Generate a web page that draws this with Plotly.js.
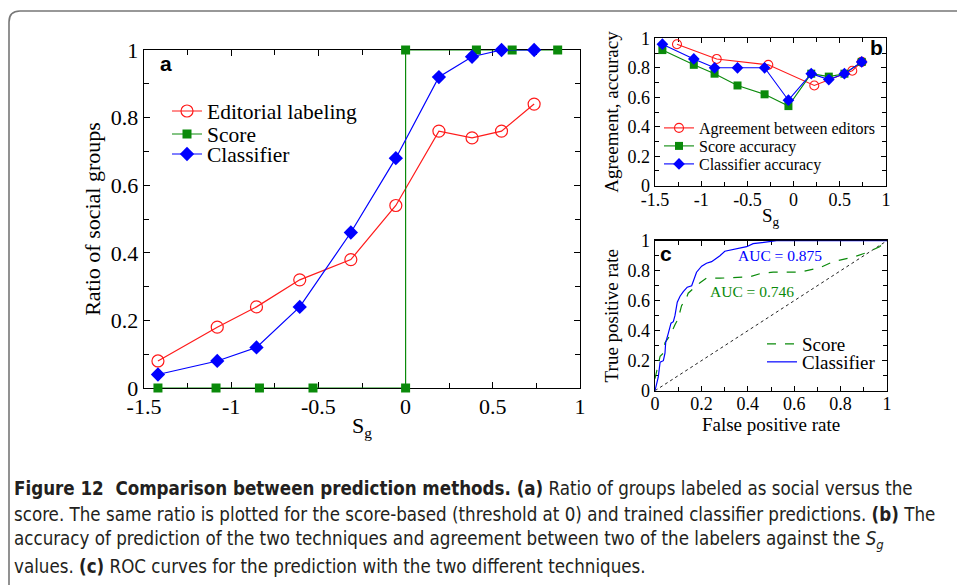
<!DOCTYPE html>
<html>
<head>
<meta charset="utf-8">
<script src="https://cdn.plot.ly/plotly-3.0.1.min.js"></script>
<style>html,body{margin:0;padding:0;background:#fff;}#chart{width:957px;height:585px;}</style>
</head>
<body>
<div id="chart"></div>
<script>
// ---------- Panel a: ratio of social groups ----------
const sgA = [-1.42, -1.08, -0.855, -0.607, -0.314, -0.056, 0.191, 0.381, 0.55, 0.737];
const editorialRatio = [0.08, 0.18, 0.24, 0.32, 0.38, 0.54, 0.76, 0.74, 0.76, 0.84];
const classifierRatio = [0.04, 0.08, 0.12, 0.24, 0.46, 0.68, 0.92, 0.98, 1.0, 1.0];
const sgScore = [-1.42, -1.087, -0.838, -0.531, 0.0, 0.0, 0.406, 0.611, 0.872];
const scoreRatio = [0, 0, 0, 0, 0, 1, 1, 1, 1];

// ---------- Panel b: agreement / accuracy ----------
const sgAgree = [-1.262, -0.832, -0.274, 0.224, 0.635, 0.737];
const agreement = [0.96, 0.86, 0.82, 0.68, 0.78, 0.84];
const scoreAccuracy = [0.92, 0.82, 0.76, 0.68, 0.62, 0.54, 0.76, 0.74, 0.76, 0.84];
const classifierAccuracy = [0.96, 0.86, 0.80, 0.80, 0.80, 0.58, 0.76, 0.72, 0.76, 0.84];

// ---------- Panel c: ROC curves ----------
const fprClassifier = [0, 0.007, 0.014, 0.022, 0.036, 0.043, 0.046, 0.057, 0.069, 0.079, 0.086, 0.096, 0.108, 0.122, 0.139, 0.158, 0.172, 0.179, 0.201, 0.222, 0.244, 0.265, 0.28, 0.301, 0.33, 0.366, 0.395, 0.423, 0.466, 0.524, 0.7, 1.0];
const tprClassifier = [0, 0.04, 0.09, 0.19, 0.20, 0.25, 0.32, 0.38, 0.45, 0.46, 0.50, 0.59, 0.63, 0.66, 0.69, 0.70, 0.77, 0.79, 0.83, 0.85, 0.86, 0.88, 0.90, 0.93, 0.94, 0.95, 0.96, 0.98, 0.99, 1.0, 1.0, 1.0];
const fprScore = [0, 0.007, 0.022, 0.036, 0.043, 0.057, 0.072, 0.086, 0.10, 0.115, 0.129, 0.143, 0.165, 0.194, 0.222, 0.28, 0.409, 0.452, 0.509, 0.624, 0.71, 0.768, 0.854, 0.911, 0.968, 1.0];
const tprScore = [0.08, 0.13, 0.23, 0.25, 0.32, 0.35, 0.39, 0.44, 0.48, 0.57, 0.59, 0.65, 0.68, 0.72, 0.75, 0.75, 0.76, 0.78, 0.79, 0.79, 0.82, 0.86, 0.89, 0.92, 0.96, 1.0];
const diagX = [0, 1];
const diagY = [0, 1];
const aucLabels = ['AUC = 0.875', 'AUC = 0.746'];
const aucPos = [[0.54, 0.90], [0.42, 0.66]];

// tick labels
const sgTickVals = [-1.5, -1, -0.5, 0, 0.5, 1];
const sgTickText = ['-1.5', '-1', '-0.5', '0', '0.5', '1'];
const unitTickVals = [0, 0.2, 0.4, 0.6, 0.8, 1];
const unitTickText = ['0', '0.2', '0.4', '0.6', '0.8', '1'];

const RED = '#ff1a1a', GREEN = '#0a8a0a', BLUE = '#0000ff';
const SERIF = 'Liberation Serif, Times New Roman, serif';
const W = 957, H = 585;
const px = v => v / W;
const py = v => 1 - v / H;

const traces = [
  // panel a
  {x: sgA, y: editorialRatio, xaxis: 'x', yaxis: 'y', name: 'Editorial labeling', legend: 'legend',
   mode: 'lines+markers', line: {color: RED, width: 1.2},
   marker: {symbol: 'circle-open', size: 12, color: RED, line: {width: 1.2}}, cliponaxis: false},
  {x: sgScore, y: scoreRatio, xaxis: 'x', yaxis: 'y', name: 'Score', legend: 'legend2',
   mode: 'lines+markers', line: {color: GREEN, width: 1.2},
   marker: {symbol: 'square', size: 9, color: GREEN}, cliponaxis: false},
  {x: sgA, y: classifierRatio, xaxis: 'x', yaxis: 'y', name: 'Classifier', legend: 'legend3',
   mode: 'lines+markers', line: {color: BLUE, width: 1.2},
   marker: {symbol: 'diamond', size: 11, color: BLUE}, cliponaxis: false},
  // panel b
  {x: sgAgree, y: agreement, xaxis: 'x2', yaxis: 'y2', name: 'Agreement between editors', legend: 'legend4',
   mode: 'lines+markers', line: {color: RED, width: 1.1},
   marker: {symbol: 'circle-open', size: 9, color: RED, line: {width: 1.1}}, cliponaxis: false},
  {x: sgA, y: scoreAccuracy, xaxis: 'x2', yaxis: 'y2', name: 'Score accuracy', legend: 'legend5',
   mode: 'lines+markers', line: {color: GREEN, width: 1.1},
   marker: {symbol: 'square', size: 8, color: GREEN}, cliponaxis: false},
  {x: sgA, y: classifierAccuracy, xaxis: 'x2', yaxis: 'y2', name: 'Classifier accuracy', legend: 'legend6',
   mode: 'lines+markers', line: {color: BLUE, width: 1.1},
   marker: {symbol: 'diamond', size: 9, color: BLUE}, cliponaxis: false},
  // panel c
  {x: diagX, y: diagY, xaxis: 'x3', yaxis: 'y3', showlegend: false, mode: 'lines',
   line: {color: '#222', width: 1, dash: 'dot'}},
  {x: fprScore, y: tprScore, xaxis: 'x3', yaxis: 'y3', name: 'Score', legend: 'legend7',
   mode: 'lines', line: {color: GREEN, width: 1.2, dash: 'dash'}},
  {x: fprClassifier, y: tprClassifier, xaxis: 'x3', yaxis: 'y3', name: 'Classifier', legend: 'legend8',
   mode: 'lines', line: {color: BLUE, width: 1.2}}
];

function axis(domain, range, tv, tt, minorDtick, fs, ticklen, extra) {
  return Object.assign({
    domain: domain, range: range, tickmode: 'array', tickvals: tv, ticktext: tt,
    showline: true, mirror: 'ticks', linecolor: '#000', linewidth: 1.3,
    ticks: 'inside', ticklen: ticklen, tickwidth: 1, tickcolor: '#000',
    minor: {tickmode: 'linear', tick0: 0, dtick: minorDtick, ticks: 'inside', ticklen: ticklen - 1, tickwidth: 1, tickcolor: '#000'},
    showgrid: false, zeroline: false, layer: 'below traces',
    tickfont: {family: SERIF, size: fs, color: '#000'}, fixedrange: true
  }, extra || {});
}

function leg(x, yc, fs) {
  return {x: px(x), y: py(yc), xanchor: 'left', yanchor: 'middle', xref: 'paper', yref: 'paper',
    bgcolor: 'rgba(0,0,0,0)', borderwidth: 0, itemwidth: 30,
    font: {family: SERIF, size: fs, color: '#000'}};
}

const captionFont = {family: 'DejaVu Sans Condensed, Liberation Sans Narrow, sans-serif', size: 18.6, color: '#231f20'};
const captionLines = [
  '<b>Figure 12  Comparison between prediction methods. (a)</b> Ratio of groups labeled as social versus the',
  'score. The same ratio is plotted for the score-based (threshold at 0) and trained classifier predictions. <b>(b)</b> The',
  'accuracy of prediction of the two techniques and agreement between two of the labelers against the <i>S<sub>g</sub></i>',
  'values. <b>(c)</b> ROC curves for the prediction with the two different techniques.'
];
const captionY = [488, 514, 540, 566];

const labelFont = {family: 'Liberation Sans, Arial, sans-serif', size: 21, color: '#000'};
const annotations = [
  {text: '<b>a</b>', x: px(166), y: py(63), xref: 'paper', yref: 'paper', xanchor: 'center', yanchor: 'middle', showarrow: false, font: labelFont},
  {text: '<b>b</b>', x: px(876), y: py(47), xref: 'paper', yref: 'paper', xanchor: 'center', yanchor: 'middle', showarrow: false, font: labelFont},
  {text: '<b>c</b>', x: px(666), y: py(253), xref: 'paper', yref: 'paper', xanchor: 'center', yanchor: 'middle', showarrow: false, font: labelFont},
  {text: aucLabels[0], x: aucPos[0][0], y: aucPos[0][1], xref: 'x3', yref: 'y3', xanchor: 'center', yanchor: 'middle', showarrow: false,
   font: {family: SERIF, size: 15.5, color: BLUE}},
  {text: aucLabels[1], x: aucPos[1][0], y: aucPos[1][1], xref: 'x3', yref: 'y3', xanchor: 'center', yanchor: 'middle', showarrow: false,
   font: {family: SERIF, size: 15.5, color: GREEN}}
];
captionLines.forEach((t, i) => annotations.push({
  text: t, x: px(12), y: py(captionY[i]), xref: 'paper', yref: 'paper', xanchor: 'left', yanchor: 'middle',
  showarrow: false, align: 'left', font: captionFont
}));

const layout = {
  width: W, height: H, margin: {l: 0, r: 0, t: 0, b: 0},
  paper_bgcolor: '#fff', plot_bgcolor: 'rgba(0,0,0,0)',
  xaxis: axis([px(144), px(580)], [-1.5, 1], sgTickVals, sgTickText, 0.25, 22, 6,
    {anchor: 'y', ticklabelstandoff: -2, title: {text: 'S<sub>g</sub>', font: {family: SERIF, size: 22, color: '#000'}, standoff: 0}}),
  yaxis: axis([py(388), py(50)], [0, 1], unitTickVals, unitTickText, 0.1, 22, 6,
    {anchor: 'x', title: {text: 'Ratio of social groups', font: {family: SERIF, size: 22, color: '#000'}, standoff: 4}}),
  xaxis2: axis([px(655), px(886)], [-1.5, 1], sgTickVals, sgTickText, 0.25, 18, 5,
    {anchor: 'y2', ticklabelstandoff: -3, title: {text: 'S<sub>g</sub>', font: {family: SERIF, size: 19, color: '#000'}, standoff: 0}}),
  yaxis2: axis([py(185.7), py(38.3)], [0, 1], unitTickVals, unitTickText, 0.1, 18, 5,
    {anchor: 'x2', title: {text: 'Agreement, accuracy', font: {family: SERIF, size: 19, color: '#000'}, standoff: 4}}),
  xaxis3: axis([px(655), px(887)], [0, 1], unitTickVals, unitTickText, 0.1, 18, 5,
    {anchor: 'y3', ticklabelstandoff: -4, title: {text: 'False positive rate', font: {family: SERIF, size: 19, color: '#000'}, standoff: 0}}),
  yaxis3: axis([py(390.7), py(240.7)], [0, 1], unitTickVals, unitTickText, 0.1, 18, 5,
    {anchor: 'x3', title: {text: 'True positive rate', font: {family: SERIF, size: 19, color: '#000'}, standoff: 4}}),
  legend: leg(167, 111, 21.5),
  legend2: leg(167, 134, 21.5),
  legend3: leg(167, 154, 21.5),
  legend4: leg(659, 128, 16),
  legend5: leg(659, 146, 16),
  legend6: leg(659, 164, 16),
  legend7: leg(762, 344, 19),
  legend8: leg(762, 362, 19),
  annotations: annotations,
  shapes: [
    {type: 'path', xref: 'paper', yref: 'paper',
     path: 'M ' + px(9) + ',' + py(600) + ' L ' + px(9) + ',' + py(22) + ' Q ' + px(9) + ',' + py(11) + ' ' + px(20) + ',' + py(11) + ' L ' + px(980) + ',' + py(11),
     line: {color: '#777', width: 1.6}}
  ],
  showlegend: true
};

Plotly.newPlot('chart', traces, layout, {staticPlot: true, displayModeBar: false});
</script>
</body>
</html>
